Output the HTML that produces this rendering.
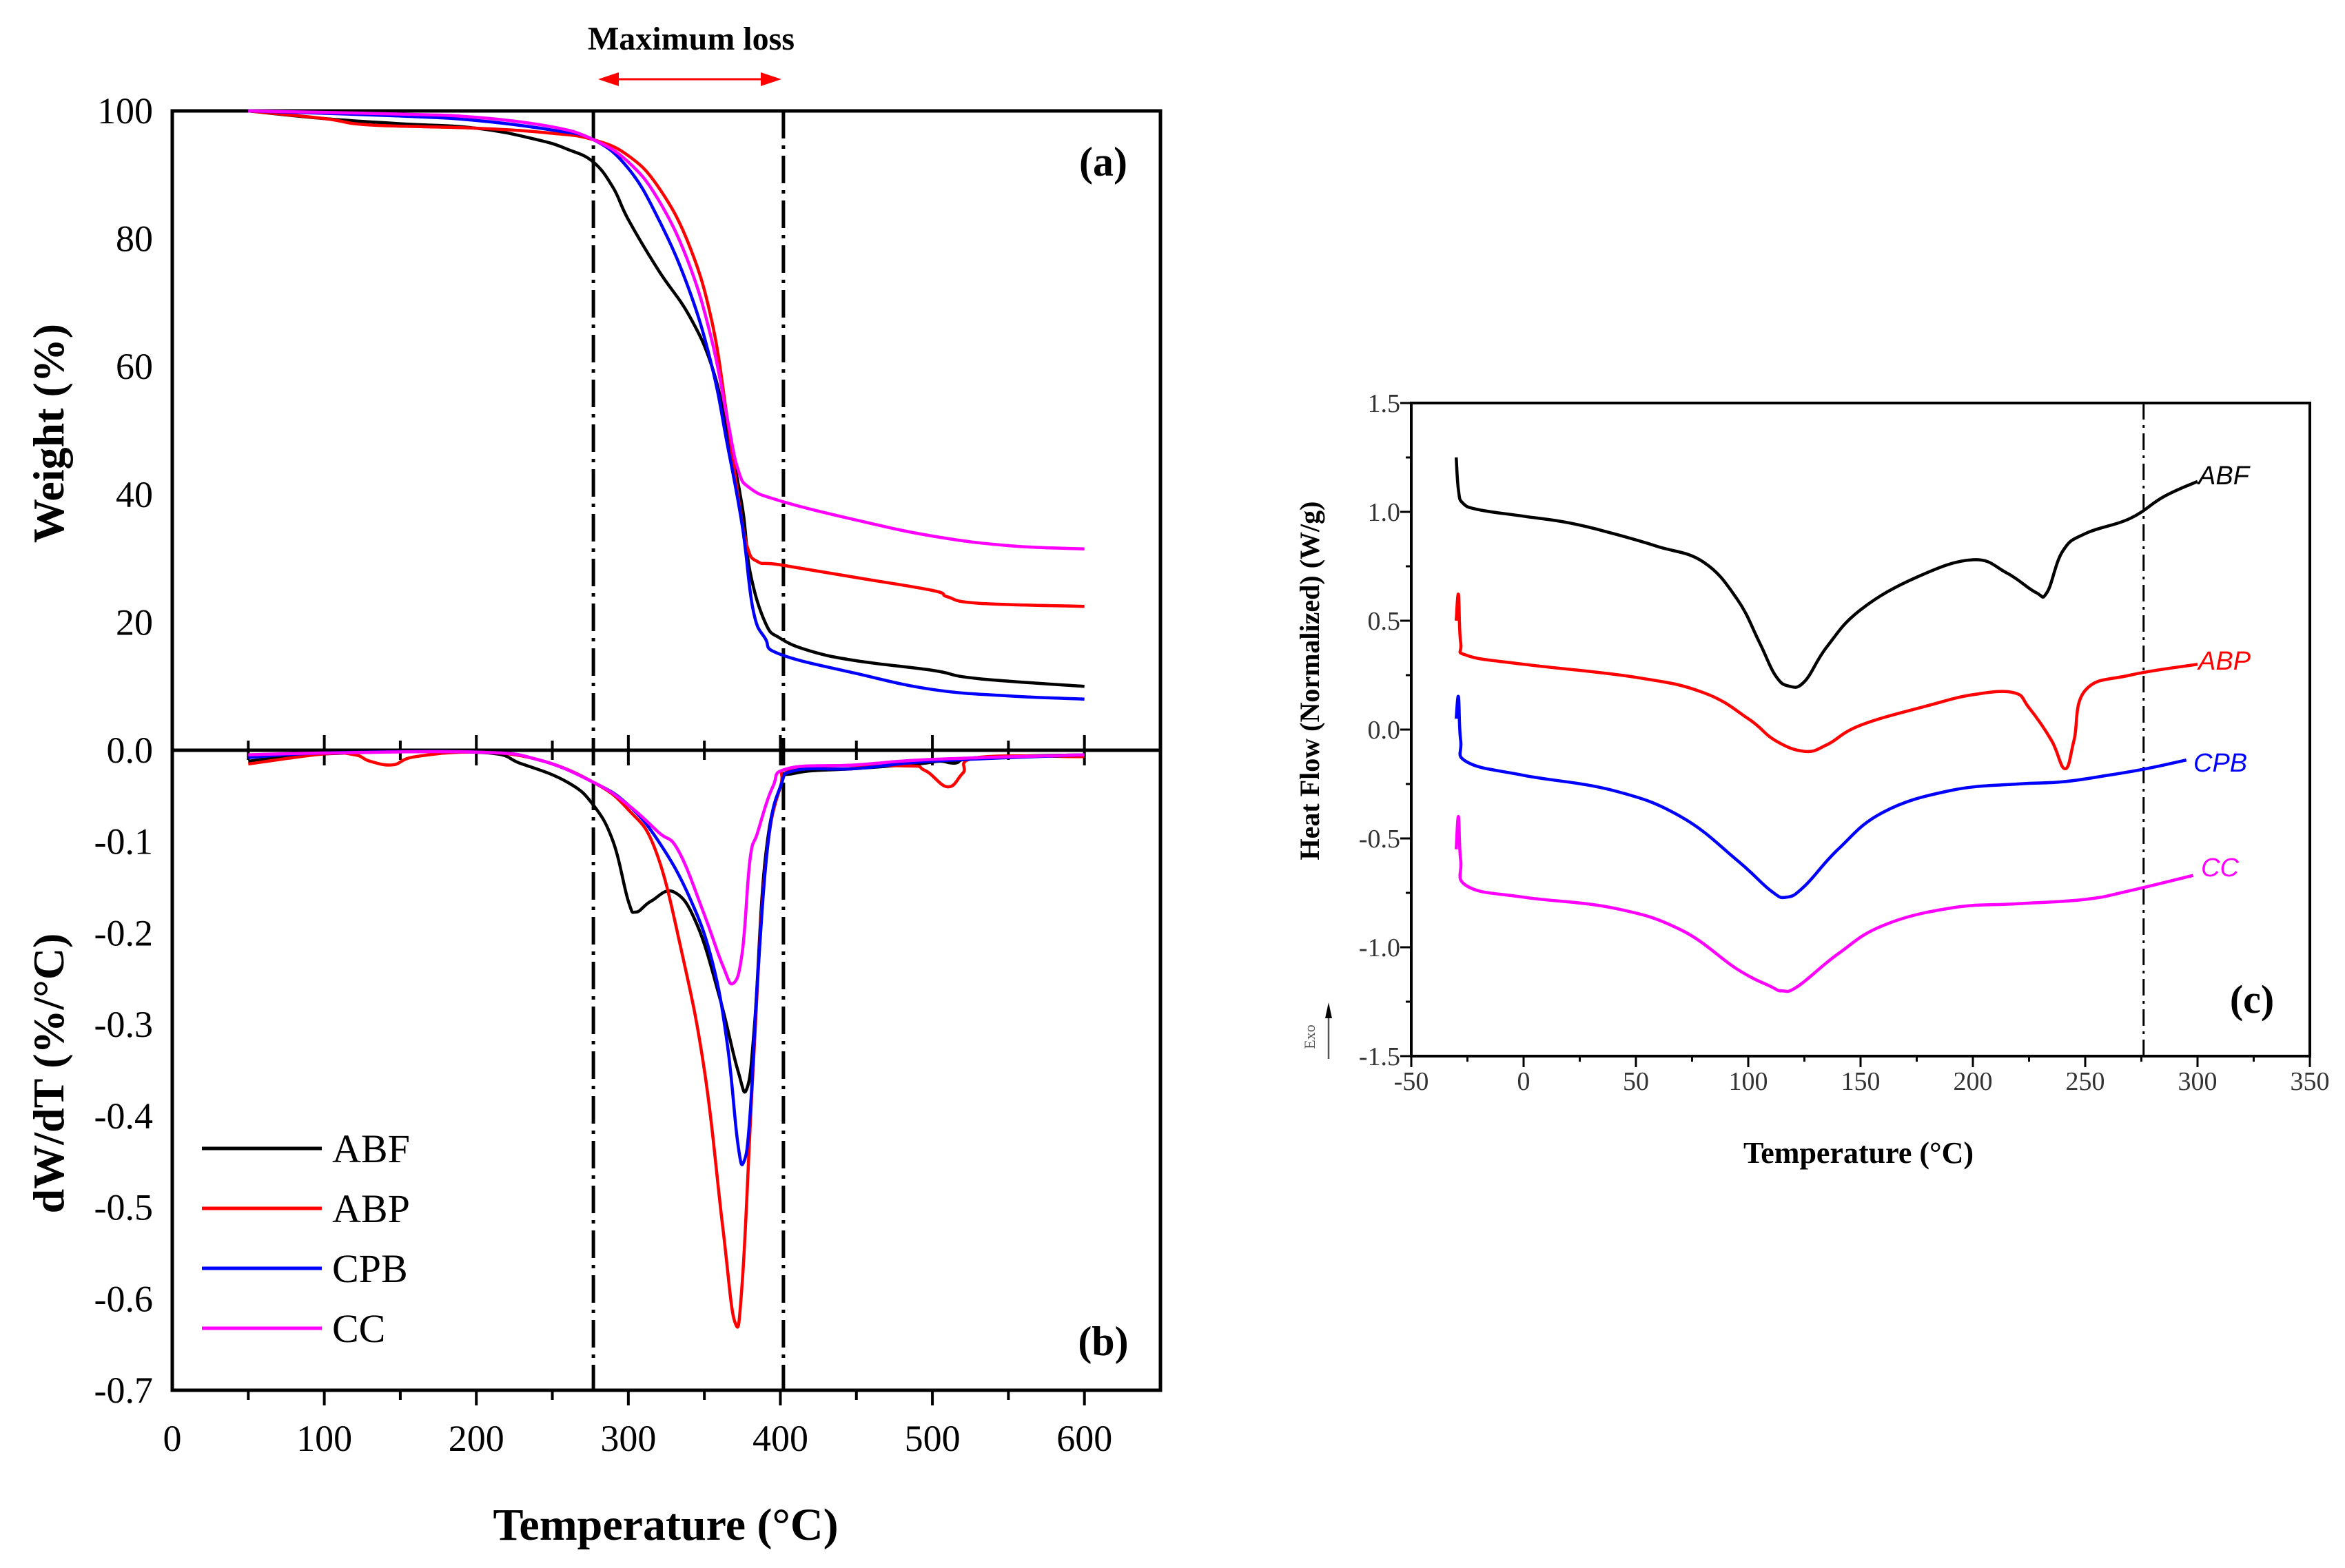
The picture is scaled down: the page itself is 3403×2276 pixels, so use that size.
<!DOCTYPE html>
<html><head><meta charset="utf-8"><style>
body{margin:0;background:#fff}
svg{display:block}
text{font-family:"Liberation Serif",serif}
</style></head><body>
<svg id="fig" width="3403" height="2276" viewBox="0 0 3403 2276" xmlns="http://www.w3.org/2000/svg"></svg>
<script>
// ---- Panel (a) TGA weight data ----
const tgaABF_T=[50,100,150,200,240,260,277,290,300,320,340,355,365,375,380,390,400,420,450,500,520,550,600];
const tgaABF_W=[100,98.8,98,97.3,95.5,94,92,88,83,75,68,60,50,38,28,20,17.5,15.5,14,12.5,11.5,10.8,10];
const tgaABP_T=[50,100,130,200,250,277,300,320,340,355,365,372,378,385,400,450,500,510,530,600];
const tgaABP_W=[100,98.8,97.8,97.3,96.5,95.5,93,88,79,67,52,40,32,29.5,29,27,25,24,23,22.5];
const tgaCPB_T=[50,150,200,250,277,300,320,340,355,365,375,382,390,400,450,500,550,600];
const tgaCPB_W=[100,99.2,98.5,97,95.5,91,83,72,60,48,35,22,17.5,15,12,9.5,8.5,8];
const tgaCC_T=[50,150,200,250,277,300,320,340,355,365,372,380,400,450,500,550,600];
const tgaCC_W=[100,99.5,99,97.5,95.5,92,86,76,64,52,44,41,39,36,33.5,32,31.5];
// ---- Panel (b) DTG data ----
const dtgABF_T=[50,100,200,230,260,277,290,300,305,315,330,345,360,372,378,383,390,400,410,450,490,505,515,530,600];
const dtgABF_V=[-0.012,-0.004,-0.002,-0.015,-0.035,-0.06,-0.1,-0.165,-0.177,-0.165,-0.155,-0.19,-0.27,-0.35,-0.37,-0.3,-0.12,-0.04,-0.025,-0.02,-0.015,-0.012,-0.014,-0.008,-0.005];
const dtgABP_T=[50,100,120,130,145,160,200,240,277,300,318,335,350,362,370,375,382,390,400,410,480,495,510,520,530,600];
const dtgABP_V=[-0.015,-0.004,-0.005,-0.012,-0.016,-0.007,-0.002,-0.01,-0.035,-0.065,-0.11,-0.22,-0.35,-0.52,-0.625,-0.58,-0.35,-0.13,-0.04,-0.02,-0.017,-0.022,-0.04,-0.025,-0.008,-0.007];
const dtgCPB_T=[50,100,200,240,277,300,320,340,355,365,372,376,380,385,392,400,410,450,500,600];
const dtgCPB_V=[-0.008,-0.003,-0.002,-0.01,-0.035,-0.06,-0.1,-0.16,-0.23,-0.32,-0.43,-0.45,-0.4,-0.25,-0.1,-0.04,-0.022,-0.02,-0.012,-0.005];
const dtgCC_T=[50,100,200,240,277,300,320,333,350,362,369,375,380,385,395,405,450,500,600];
const dtgCC_V=[-0.005,-0.003,-0.002,-0.01,-0.035,-0.06,-0.09,-0.11,-0.18,-0.235,-0.255,-0.22,-0.12,-0.09,-0.04,-0.02,-0.016,-0.01,-0.005];
// ---- Panel (c) DSC data ----
const dscABF_T=[-30,-29,-27,-20,0,20,40,60,80,95,105,112,118,125,135,150,175,200,215,228,233,240,250,270,285,300];
const dscABF_V=[1.25,1.1,1.04,1.01,0.98,0.95,0.9,0.84,0.77,0.6,0.4,0.25,0.2,0.22,0.38,0.55,0.7,0.78,0.72,0.63,0.63,0.82,0.9,0.97,1.07,1.14];
const dscABP_T=[-30,-29,-28,-25,0,50,80,100,112,125,135,150,180,200,218,225,235,241,245,250,270,300];
const dscABP_V=[0.5,0.62,0.4,0.34,0.3,0.24,0.17,0.05,-0.05,-0.1,-0.07,0.02,0.11,0.16,0.17,0.1,-0.05,-0.18,-0.05,0.18,0.25,0.3];
const dscCPB_T=[-30,-29,-28,-25,0,40,70,95,110,117,125,140,160,190,220,240,260,277,295];
const dscCPB_V=[0.05,0.15,-0.05,-0.15,-0.21,-0.28,-0.4,-0.6,-0.74,-0.77,-0.72,-0.55,-0.38,-0.28,-0.25,-0.24,-0.21,-0.18,-0.14];
const dscCC_T=[-30,-29,-28,-25,0,40,70,95,110,115,122,140,160,190,220,250,270,298];
const dscCC_V=[-0.55,-0.4,-0.6,-0.72,-0.77,-0.82,-0.92,-1.1,-1.18,-1.2,-1.18,-1.03,-0.9,-0.82,-0.8,-0.78,-0.74,-0.67];
const abTicks=[0,100,200,300,400,500,600];
const aYTicks=[0,20,40,60,80,100];
const bYTicks=[0,-0.1,-0.2,-0.3,-0.4,-0.5,-0.6,-0.7];
const cXTicks=[-50,0,50,100,150,200,250,300,350];
const cYTicks=[-1.5,-1.0,-0.5,0.0,0.5,1.0,1.5];

const NS="http://www.w3.org/2000/svg";
const svg=document.getElementById('fig');
function mk(tag,attrs,parent,txt){const e=document.createElementNS(NS,tag);for(const k in attrs)e.setAttribute(k,attrs[k]);if(txt!==undefined)e.textContent=txt;(parent||svg).appendChild(e);return e;}

const ax=t=>250+(t/650)*(1684-250);
const ay=w=>1089-(w/100)*(1089-161);
const by=v=>1089+(v/-0.7)*(2018-1089);
const cx=t=>2048+((t+50)/400)*(3352-2048);
const cy=v=>1533-((v+1.5)/3)*(1533-585);
// smooth path (Catmull-Rom, reduced tension)
function path(T,V,fx,fy){
 const P=T.map((t,i)=>[fx(t),fy(V[i])]);
 let d='M'+P[0][0].toFixed(1)+','+P[0][1].toFixed(1);
 const k=0.2;
 for(let i=0;i<P.length-1;i++){
  const p0=P[Math.max(0,i-1)],p1=P[i],p2=P[i+1],p3=P[Math.min(P.length-1,i+2)];
  const c1=[p1[0]+(p2[0]-p0[0])*k,p1[1]+(p2[1]-p0[1])*k];
  const c2=[p2[0]-(p3[0]-p1[0])*k,p2[1]-(p3[1]-p1[1])*k];
  d+=' C'+c1.map(v=>v.toFixed(1)).join(',')+' '+c2.map(v=>v.toFixed(1)).join(',')+' '+p2[0].toFixed(1)+','+p2[1].toFixed(1);
 }
 return d;
}

let g=mk('g',{});


mk('rect',{x:250,y:161,width:1434,height:1857,fill:'none',stroke:'#000','stroke-width':5},g);
mk('line',{x1:250,y1:1089,x2:1684,y2:1089,stroke:'#000','stroke-width':5},g);
for(let t=50;t<=600;t+=50){const l=t%100===0?22:14;
 mk('line',{x1:ax(t),y1:1089-l,x2:ax(t),y2:1089+l,stroke:'#000','stroke-width':4},g);
 mk('line',{x1:ax(t),y1:2018,x2:ax(t),y2:2018+l,stroke:'#000','stroke-width':4},g);}
abTicks.forEach(t=>{const e=mk('text',{x:ax(t),y:2106,'font-size':54,'text-anchor':'middle'},svg,String(t));
 });
aYTicks.forEach(v=>{if(v===0)return;const e=mk('text',{x:222,y:ay(v)+18,'font-size':54,'text-anchor':'end'},svg,String(v));
 });
bYTicks.forEach(v=>{const e=mk('text',{x:222,y:by(v)+18,'font-size':54,'text-anchor':'end'},svg,v.toFixed(1));
 });
[277,402].forEach(t=>{const e=mk('line',{x1:ax(t),y1:161,x2:ax(t),y2:2018,stroke:'#000','stroke-width':5,'stroke-dasharray':'40,10,5,10'});
 });
const cols={ABF:'#000',ABP:'#ff0000',CPB:'#0000ff',CC:'#ff00ff'};
[['ABF',tgaABF_T,tgaABF_W],['ABP',tgaABP_T,tgaABP_W],['CPB',tgaCPB_T,tgaCPB_W],['CC',tgaCC_T,tgaCC_W]].forEach(s=>{
 const e=mk('path',{d:path(s[1],s[2],ax,ay),fill:'none',stroke:cols[s[0]],'stroke-width':4.5,'stroke-linejoin':'round'});
 });
[['ABF',dtgABF_T,dtgABF_V],['ABP',dtgABP_T,dtgABP_V],['CPB',dtgCPB_T,dtgCPB_V],['CC',dtgCC_T,dtgCC_V]].forEach(s=>{
 const e=mk('path',{d:path(s[1],s[2],ax,by),fill:'none',stroke:cols[s[0]],'stroke-width':4.5,'stroke-linejoin':'round'});
 });
['ABF','ABP','CPB','CC'].forEach((n,i)=>{const y=1667+i*87;
 const l=mk('line',{x1:293,y1:y,x2:467,y2:y,stroke:cols[n],'stroke-width':5});
 
 const e=mk('text',{x:482,y:y+20,'font-size':58},svg,n);
 });
let e;
e=mk('text',{x:1601,y:255,'font-size':60,'font-weight':'bold','text-anchor':'middle'},svg,'(a)');
e=mk('text',{x:1601,y:1967,'font-size':60,'font-weight':'bold','text-anchor':'middle'},svg,'(b)');
e=mk('text',{x:1003,y:72,'font-size':48,'font-weight':'bold','text-anchor':'middle'},svg,'Maximum loss');
e=mk('g',{});
mk('line',{x1:890,y1:115,x2:1112,y2:115,stroke:'#ff0000','stroke-width':3},e);
mk('polygon',{points:'868,115 898,105 898,125',fill:'#ff0000'},e);
mk('polygon',{points:'1134,115 1104,105 1104,125',fill:'#ff0000'},e);
e=mk('text',{x:966,y:2235,'font-size':66,'font-weight':'bold','text-anchor':'middle'},svg,'Temperature (°C)');
e=mk('text',{x:0,y:0,'font-size':64,'font-weight':'bold','text-anchor':'middle',transform:'translate(92,629) rotate(-90)'},svg,'Weight (%)');
e=mk('text',{x:0,y:0,'font-size':64,'font-weight':'bold','text-anchor':'middle',transform:'translate(92,1558) rotate(-90)'},svg,'dW/dT (%/°C)');

g=mk('g',{});
mk('rect',{x:2048,y:585,width:1304,height:948,fill:'none',stroke:'#000','stroke-width':4},g);
for(let t=-50;t<=350;t+=25){const l=t%50===0?16:8;mk('line',{x1:cx(t),y1:1533,x2:cx(t),y2:1533+l,stroke:'#000','stroke-width':3},g);}
for(let v=-1.5;v<=1.5001;v+=0.25){const l=Math.abs(v*2-Math.round(v*2))<1e-6?16:8;mk('line',{x1:2048-l,y1:cy(v),x2:2048,y2:cy(v),stroke:'#000','stroke-width':3},g);}
cXTicks.forEach(t=>{const e=mk('text',{x:cx(t),y:1582,'font-size':38,'text-anchor':'middle',fill:'#333'},svg,String(t));
 });
cYTicks.forEach(v=>{const e=mk('text',{x:2032,y:cy(v)+13,'font-size':38,'text-anchor':'end',fill:'#333'},svg,v.toFixed(1));
 });
e=mk('line',{x1:cx(276),y1:585,x2:cx(276),y2:1533,stroke:'#000','stroke-width':3,'stroke-dasharray':'24,8,4,8'});
[['ABF',dscABF_T,dscABF_V],['ABP',dscABP_T,dscABP_V],['CPB',dscCPB_T,dscCPB_V],['CC',dscCC_T,dscCC_V]].forEach(s=>{
 const p=mk('path',{d:path(s[1],s[2],cx,cy),fill:'none',stroke:cols[s[0]],'stroke-width':4.5,'stroke-linejoin':'round'});
 });
[['ABF',3190,703],['ABP',3190,972],['CPB',3183,1120],['CC',3194,1272]].forEach(s=>{
 const t=mk('text',{x:s[1],y:s[2],'font-size':38,'font-style':'italic',fill:cols[s[0]],style:'font-family:"Liberation Sans",sans-serif'},svg,s[0]);
 });
e=mk('text',{x:3268,y:1470,'font-size':58,'font-weight':'bold','text-anchor':'middle'},svg,'(c)');
e=mk('text',{x:2697,y:1688,'font-size':44,'font-weight':'bold','text-anchor':'middle'},svg,'Temperature (°C)');
e=mk('text',{x:0,y:0,'font-size':40,'font-weight':'bold','text-anchor':'middle',transform:'translate(1914,988) rotate(-90)'},svg,'Heat Flow (Normalized) (W/g)');
e=mk('g',{});
mk('line',{x1:1928,y1:1537,x2:1928,y2:1460,stroke:'#555','stroke-width':2.5},e);
mk('polygon',{points:'1928,1455 1923,1478 1933,1478',fill:'#000'},e);
mk('text',{x:0,y:0,'font-size':22,fill:'#555','text-anchor':'middle',transform:'translate(1908,1505) rotate(-90)'},e,'Exo');
</script>
</body></html>
